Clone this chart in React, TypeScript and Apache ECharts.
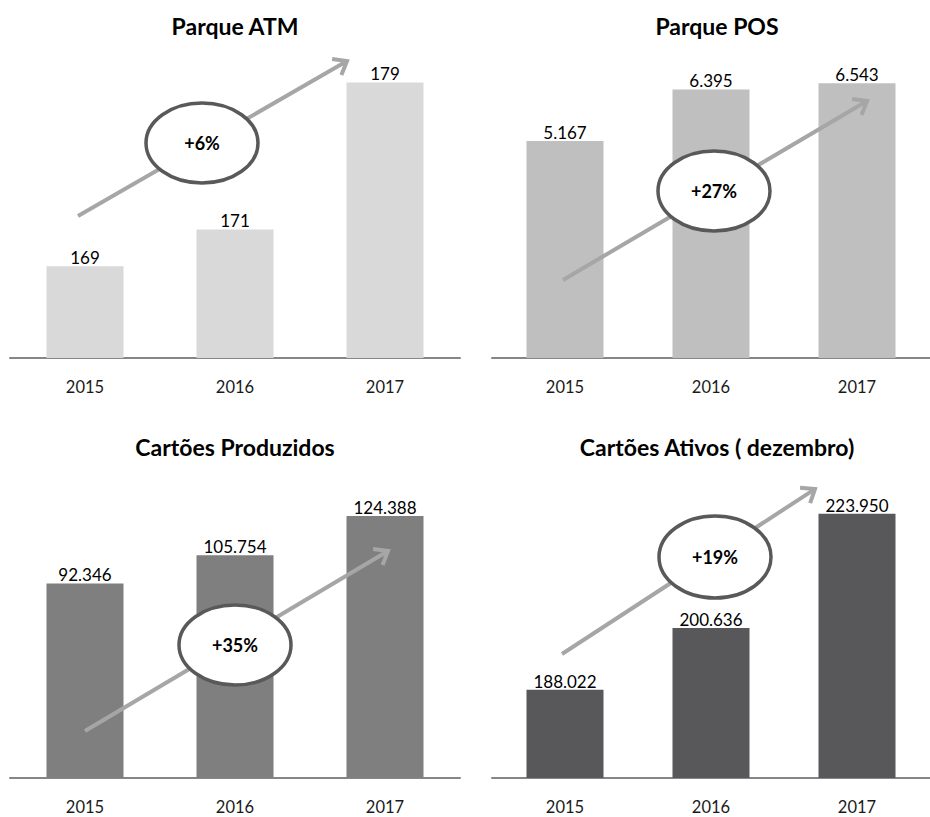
import React, { useEffect, useRef } from "react";
import * as echarts from "echarts";

const years = ["2015", "2016", "2017"];
const atmValues = [169, 171, 179];
const posValues = [5167, 6395, 6543];
const producedValues = [92346, 105754, 124388];
const activeValues = [188022, 200636, 223950];
const titles = ["Parque ATM", "Parque POS", "Cartões Produzidos", "Cartões Ativos ( dezembro)"];
const growthLabels = ["+6%", "+27%", "+35%", "+19%"];
const yMins = [164, 0, 0, 170000];
const yMaxs = [180, 7000, 140000, 230000];

const barColors = ["#d9d9d9", "#bfbfbf", "#7f7f7f", "#58585a"];
const FONT = "Lato";

const fmt = (v: number) => String(v).replace(/\B(?=(\d{3})+(?!\d))/g, ".");

// layout of panels (annotation geometry)
const grids = [
  { left: 10, top: 64, width: 450, height: 294 },
  { left: 492, top: 64, width: 449, height: 294 },
  { left: 10, top: 483, width: 450, height: 295 },
  { left: 492, top: 484, width: 449, height: 294 },
];
const titlePos = [
  { x: 235, y: 14 },
  { x: 717, y: 14 },
  { x: 235, y: 435 },
  { x: 717, y: 435 },
];
const arrows = [
  [78, 216, 347, 61],
  [563, 280, 867, 101],
  [85, 731, 388, 551],
  [562, 654, 815, 489],
];
const ellipses = [
  [202, 143, 56, 40],
  [714, 191, 56, 40],
  [235, 645, 56, 40],
  [715, 557, 56, 41],
];

function arrowGraphics(a: number[]) {
  const [x1, y1, x2, y2] = a;
  const ang = Math.atan2(y2 - y1, x2 - x1);
  const len = 15;
  const spread = (38 * Math.PI) / 180;
  const p1 = [x2 - len * Math.cos(ang - spread), y2 - len * Math.sin(ang - spread)];
  const p2 = [x2 - len * Math.cos(ang + spread), y2 - len * Math.sin(ang + spread)];
  const style = { stroke: "#a6a6a6", lineWidth: 4, lineCap: "butt", lineJoin: "miter" };
  return [
    { type: "line", z: 10, shape: { x1, y1, x2: x2 - 2 * Math.cos(ang), y2: y2 - 2 * Math.sin(ang) }, style },
    { type: "polyline", z: 10, shape: { points: [p1, [x2, y2], p2] }, style },
  ];
}

export default function App() {
  const ref = useRef<HTMLDivElement>(null);
  useEffect(() => {
    if (!ref.current) return;
    const chart = echarts.init(ref.current, undefined, { renderer: "svg" });
    const seriesData = [atmValues, posValues, producedValues, activeValues];

    const graphic: any[] = [];
    arrows.forEach((a) => graphic.push(...arrowGraphics(a)));
    ellipses.forEach((e, i) => {
      graphic.push({
        type: "ellipse",
        z: 20,
        shape: { cx: e[0], cy: e[1], rx: e[2], ry: e[3] },
        style: { fill: "#ffffff", stroke: "#595959", lineWidth: 3.5 },
      });
      graphic.push({
        type: "text",
        z: 30,
        x: e[0],
        y: e[1],
        style: {
          text: growthLabels[i],
          align: "center",
          verticalAlign: "middle",
          fontFamily: FONT,
          fontWeight: "bold",
          fontSize: 18,
          fill: "#000",
        },
      });
    });

    chart.setOption({
      animation: false,
      backgroundColor: "#ffffff",
      title: titles.map((t, i) => ({
        text: t,
        left: titlePos[i].x,
        top: titlePos[i].y,
        textAlign: "center",
        padding: 0,
        textStyle: { fontFamily: FONT, fontWeight: "bold", fontSize: 23, color: "#000" },
      })),
      grid: grids.map((g) => ({ ...g })),
      xAxis: grids.map((_, i) => ({
        type: "category",
        gridIndex: i,
        data: years,
        axisLine: { show: true, lineStyle: { color: "#868686", width: 2 } },
        axisTick: { show: false },
        axisLabel: { margin: 20, fontFamily: FONT, fontSize: 16.5, color: "#1a1a1a" },
      })),
      yAxis: grids.map((_, i) => ({
        type: "value",
        gridIndex: i,
        min: yMins[i],
        max: yMaxs[i],
        show: false,
        splitLine: { show: false },
      })),
      series: seriesData.map((d, i) => ({
        type: "bar",
        xAxisIndex: i,
        yAxisIndex: i,
        data: d,
        barWidth: 77,
        itemStyle: { color: barColors[i] },
        label: {
          show: true,
          position: "top",
          distance: 0,
          fontFamily: FONT,
          fontSize: 17,
          color: "#000",
          formatter: (p: any) => fmt(p.value),
        },
      })),
      graphic,
    });
    return () => chart.dispose();
  }, []);
  return (
    <div
      ref={ref}
      style={{ position: "fixed", left: 0, top: 0, width: 930, height: 817 }}
    />
  );
}
